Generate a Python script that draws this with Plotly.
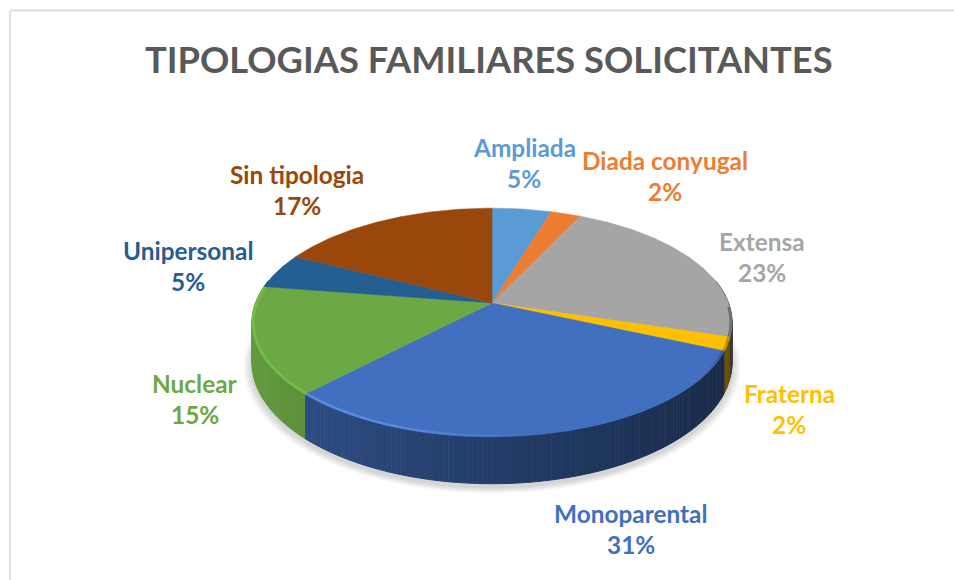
import numpy as np
import plotly.graph_objects as go

TITLE = "TIPOLOGIAS FAMILIARES SOLICITANTES"
categories = ["Ampliada", "Diada conyugal", "Extensa", "Fraterna",
              "Monoparental", "Nuclear", "Unipersonal", "Sin tipologia"]
slice_values = [4.7, 2.4, 22.6, 1.9, 30.6, 15.2, 5.0, 17.6]
percent_labels = ["5%", "2%", "23%", "2%", "31%", "15%", "5%", "17%"]
colors = ["#5b9bd5", "#ed7d31", "#a5a5a5", "#ffc000",
          "#4170c0", "#6ca944", "#255e91", "#9a470c"]
rim_colors = [None, None, None, None, "#5a8ae0", "#74bd49", None, None]
label_x = [524, 665, 762, 789, 631, 195, 188, 297]
label_y = [147, 160, 241, 393, 513, 383, 250, 174]

# perspective projection of a flat disc standing for the 3-D pie
CX, CY, A, B, K, D = 492, 303, 236.5, 111, 0.17, 39


def project(theta, depth=0.0, scale=1.0):
    u, v = np.sin(theta) * scale, np.cos(theta) * scale
    w = 1 + K * v
    return CX + A * u / w, CY - B * v / w + depth * D / w


def rgb(hex_color):
    return tuple(int(hex_color[i:i + 2], 16) for i in (1, 3, 5))


def tint(hex_color, f, alpha=1.0):
    r, g, b = rgb(hex_color)
    c = [int(x * f) for x in (r, g, b)]
    return f"rgba({c[0]},{c[1]},{c[2]},{alpha})"


def fade(hex_color, alpha):
    r, g, b = rgb(hex_color)
    return f"rgba({r},{g},{b},{alpha})"


fig = go.Figure()


def poly(xs, ys, fill, line=None, width=0):
    fig.add_trace(go.Scatter(x=xs, y=ys, mode="lines", fill="toself", fillcolor=fill,
                             line=dict(color=line or fill, width=width),
                             hoverinfo="skip", showlegend=False))


# soft shadow beneath the pie
circle = np.linspace(0, 2 * np.pi, 181)
for s in (1.035, 1.03, 1.025, 1.02, 1.015, 1.01, 1.005):
    x, y = project(circle, 1.08, s)
    poly(x, y, "rgba(0,0,0,0.022)")

# slice boundaries from the values
edges = 2 * np.pi * np.cumsum([0] + slice_values) / sum(slice_values)
wall_strength = [1.0, 1.0, 0.95, 1.1, 1.0, 1.25, 1.0, 1.0]

# side wall, as thin shaded strips
for i, c in enumerate(colors):
    a0, a1 = edges[i], edges[i + 1]
    a0v, a1v = max(a0, np.radians(78)), min(a1, np.radians(282))
    if a1v <= a0v:
        continue
    n = max(2, int(np.degrees(a1v - a0v)))
    t = np.linspace(a0v, a1v, n + 1)
    for j in range(n):
        tt = t[j:j + 2]
        x0, y0 = project(tt, 0)
        x1, y1 = project(tt[::-1], 1)
        f = (0.55 - 0.19 * np.sin(tt.mean())) * wall_strength[i]
        col = tint(c, f)
        poly(np.r_[x0, x1], np.r_[y0, y1], col, col, 1.0)

# top face
for i, c in enumerate(colors):
    t = np.linspace(edges[i], edges[i + 1], max(3, int(slice_values[i] * 5)))
    x, y = project(t)
    poly(np.r_[CX, x, CX], np.r_[CY, y, CY], c, c, 0.5)

# bevel along the rim
for i, c in enumerate(colors):
    a0, a1 = max(edges[i], np.radians(92)), min(edges[i + 1], np.radians(290))
    if a1 <= a0:
        continue
    n = max(2, int(np.degrees(a1 - a0) / 3))
    t = np.linspace(a0, a1, n + 1)
    for j in range(n):
        tt = t[j:j + 2]
        mid = np.degrees(tt.mean())
        x, y = project(tt, 0, 0.995)
        if mid > 170 and rim_colors[i]:
            col = fade(rim_colors[i], float(np.clip((mid - 170) / 30, 0, 1)))
        elif mid < 125:
            col = tint(c, 0.6, float(np.clip((125 - mid) / 20, 0, 1)) * 0.8)
        else:
            continue
        fig.add_trace(go.Scatter(x=x, y=y, mode="lines", line=dict(color=col, width=2.6),
                                 hoverinfo="skip", showlegend=False))

annotations = []
for name, pct, c, lx, ly in zip(categories, percent_labels, colors, label_x, label_y):
    for text, yy in ((name, ly), (pct, ly + 31)):
        annotations.append(dict(x=lx, y=yy, xref="x", yref="y", text=f"<b>{text}</b>",
                                showarrow=False, xanchor="center", yanchor="middle",
                                font=dict(family="Lato", size=24.4, color=c)))
annotations.append(dict(x=489, y=59, xref="x", yref="y", text=f"<b>{TITLE}</b>", showarrow=False,
                        xanchor="center", yanchor="middle",
                        font=dict(family="Lato", size=36.3, color="#595959")))

fig.update_layout(
    width=954, height=580, margin=dict(l=0, r=0, t=0, b=0),
    paper_bgcolor="white", plot_bgcolor="white",
    xaxis=dict(range=[0, 954], visible=False, fixedrange=True),
    yaxis=dict(range=[580, 0], visible=False, fixedrange=True),
    annotations=annotations, showlegend=False,
    shapes=[
        dict(type="line", x0=10, x1=954, y0=10.5, y1=10.5, xref="x", yref="y", line=dict(color="#dcdcdc", width=2)),
        dict(type="line", x0=10, x1=10, y0=10, y1=580, xref="x", yref="y", line=dict(color="#e2e2e2", width=2)),
    ],
)
fig.write_html("out.html", config=dict(displayModeBar=False),
               post_script="document.body.style.margin='0';document.body.style.overflow='hidden';")
